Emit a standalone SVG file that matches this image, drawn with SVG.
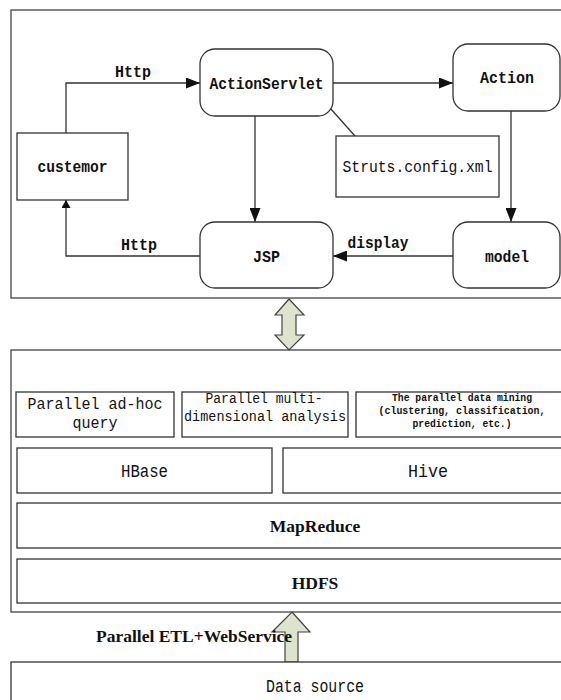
<svg xmlns="http://www.w3.org/2000/svg" width="561" height="700" viewBox="0 0 561 700">
<style>
.box{fill:#fff;stroke:#333;stroke-width:1.3}
.frame{fill:none;stroke:#444;stroke-width:1.3}
.ln{fill:none;stroke:#333;stroke-width:1.3}
.fat{fill:#dde3cc;stroke:#444;stroke-width:1.2}
.m{font-family:"Liberation Mono","DejaVu Sans Mono",monospace;fill:#111;text-anchor:middle}
.b{font-weight:bold}
.t{font-family:"Liberation Serif","Times New Roman",serif;font-weight:bold;fill:#111;text-anchor:middle}
</style>
<defs>
<marker id="ah" viewBox="0 0 14 11" refX="14" refY="5.5" markerWidth="14" markerHeight="11" markerUnits="userSpaceOnUse" orient="auto"><path d="M0,0 L14,5.5 L0,11 Z" fill="#111"/></marker>
<marker id="ahs" viewBox="0 0 8 9" refX="8" refY="4.5" markerWidth="8" markerHeight="9" markerUnits="userSpaceOnUse" orient="auto"><path d="M0,0 L8,4.5 L0,9 Z" fill="#111"/></marker>
</defs>
<rect width="561" height="700" fill="#fff"/>
<g id="web-layer">
<rect class="frame" x="11" y="10" width="600" height="288"/>
</g>
<g id="connectors">
<path class="ln" d="M66,133 V83 H200" marker-end="url(#ah)"/>
<path class="ln" d="M333,83 H453" marker-end="url(#ah)"/>
<path class="ln" d="M330,108 L355,136"/>
<path class="ln" d="M255,116 V222" marker-end="url(#ah)"/>
<path class="ln" d="M511,111 V222" marker-end="url(#ah)"/>
<path class="ln" d="M453,256 H333" marker-end="url(#ah)"/>
<path class="ln" d="M200,256 H66 V200" marker-end="url(#ahs)"/>
<path class="fat" d="M289,299 L304,315 H296 V335 H304 L289,350 L275,335 H282 V315 H275 Z"/>
<path class="fat" d="M292,612 L310,632 H298 V662 H285 V632 H272 Z"/>
</g>
<g id="label-http-top"><text class="m b" x="133" y="77" font-size="17" textLength="36" lengthAdjust="spacingAndGlyphs">Http</text></g>
<g id="label-http-bottom"><text class="m b" x="139" y="250" font-size="17" textLength="36" lengthAdjust="spacingAndGlyphs">Http</text></g>
<g id="label-display"><text class="m b" x="378" y="248" font-size="17" textLength="61" lengthAdjust="spacingAndGlyphs">display</text></g>
<g id="actionservlet">
<rect class="box" x="200" y="49" width="133" height="67" rx="15"/>
<text class="m b" x="266.5" y="89" font-size="17" textLength="114" lengthAdjust="spacingAndGlyphs">ActionServlet</text>
</g>
<g id="action">
<rect class="box" x="453" y="44" width="107" height="67" rx="15"/>
<text class="m b" x="507" y="83" font-size="17" textLength="54" lengthAdjust="spacingAndGlyphs">Action</text>
</g>
<g id="custemor">
<rect class="box" x="17" y="133" width="111" height="67"/>
<text class="m b" x="72.5" y="172" font-size="17" textLength="70" lengthAdjust="spacingAndGlyphs">custemor</text>
</g>
<g id="struts-config">
<rect class="box" x="336" y="136" width="163" height="61"/>
<text class="m" x="417.5" y="172" font-size="17" textLength="150" lengthAdjust="spacingAndGlyphs">Struts.config.xml</text>
</g>
<g id="jsp">
<rect class="box" x="200" y="222" width="133" height="66" rx="15"/>
<text class="m b" x="266.5" y="262" font-size="17" textLength="27" lengthAdjust="spacingAndGlyphs">JSP</text>
</g>
<g id="model">
<rect class="box" x="453" y="222" width="107" height="66" rx="15"/>
<text class="m b" x="507" y="262" font-size="17" textLength="44" lengthAdjust="spacingAndGlyphs">model</text>
</g>
<g id="hadoop-layer">
<rect class="frame" x="11" y="350" width="600" height="262"/>
</g>
<g id="adhoc-query">
<rect class="box" x="16" y="392" width="158" height="45"/>
<text class="m" x="95" y="409" font-size="16.5" textLength="135" lengthAdjust="spacingAndGlyphs">Parallel ad-hoc</text>
<text class="m" x="95" y="428" font-size="16.5" textLength="45" lengthAdjust="spacingAndGlyphs">query</text>
</g>
<g id="multidim-analysis">
<rect class="box" x="182" y="392" width="166" height="45"/>
<text class="m" x="264" y="403" font-size="15.5" textLength="117" lengthAdjust="spacingAndGlyphs">Parallel multi-</text>
<text class="m" x="265" y="421" font-size="15.5" textLength="162" lengthAdjust="spacingAndGlyphs">dimensional analysis</text>
</g>
<g id="data-mining">
<rect class="box" x="356" y="392" width="250" height="45"/>
<text class="m b" x="462" y="401" font-size="11" textLength="140" lengthAdjust="spacingAndGlyphs">The parallel data mining</text>
<text class="m b" x="462" y="414" font-size="11" textLength="167" lengthAdjust="spacingAndGlyphs">(clustering, classification,</text>
<text class="m b" x="462" y="427" font-size="11" textLength="99" lengthAdjust="spacingAndGlyphs">prediction, etc.)</text>
</g>
<g id="hbase">
<rect class="box" x="17" y="448" width="255" height="45"/>
<text class="m" x="144.5" y="477" font-size="18" textLength="47" lengthAdjust="spacingAndGlyphs">HBase</text>
</g>
<g id="hive">
<rect class="box" x="283" y="448" width="300" height="45"/>
<text class="m" x="428" y="477" font-size="18" textLength="40" lengthAdjust="spacingAndGlyphs">Hive</text>
</g>
<g id="mapreduce">
<rect class="box" x="17" y="503" width="600" height="45"/>
<text class="t" x="315" y="532" font-size="17.5">MapReduce</text>
</g>
<g id="hdfs">
<rect class="box" x="17" y="559" width="600" height="44"/>
<text class="t" x="315" y="589" font-size="17.5">HDFS</text>
</g>
<g id="label-etl"><text class="t" x="96" y="642" font-size="17.5" style="text-anchor:start">Parallel ETL+WebService</text></g>
<g id="data-source">
<rect class="box" x="11" y="662" width="600" height="60"/>
<text class="m" x="315" y="692" font-size="18" textLength="98" lengthAdjust="spacingAndGlyphs">Data source</text>
</g>
</svg>
